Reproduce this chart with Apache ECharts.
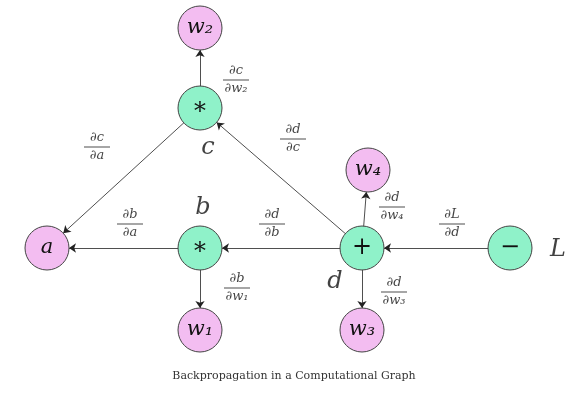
<!DOCTYPE html>
<html>
<head>
<meta charset="UTF-8">
<script src="https://cdn.jsdelivr.net/npm/echarts@6/dist/echarts.min.js"></script>
<style>body{margin:0;background:#fff}</style>
</head>
<body>
<div id="main" style="width:588px;height:402px;"></div>
<script>
// nodes: name, label, x, y, kind
var nodeNames = ['w2', 'mulC', 'a', 'mulB', 'plus', 'minus', 'w4', 'w1', 'w3'];
var nodeText = ['w₂', '∗', 'a', '∗', '+', '−', 'w₄', 'w₁', 'w₃'];
var nodeX = [200, 200, 47, 200, 362, 510, 368, 200, 362];
var nodeY = [28, 108, 248, 248, 248, 248, 170, 330, 330];
var nodeKind = ['var', 'op', 'var', 'op', 'op', 'op', 'var', 'var', 'var'];

var edgeFrom = ['mulC', 'mulC', 'plus', 'mulB', 'plus', 'mulB', 'plus', 'plus', 'minus'];
var edgeTo = ['w2', 'a', 'mulC', 'a', 'mulB', 'w1', 'w4', 'w3', 'plus'];

// gradient labels
var fracNum = ['∂c', '∂c', '∂d', '∂b', '∂d', '∂b', '∂d', '∂L', '∂d'];
var fracDen = ['∂w₂', '∂a', '∂c', '∂a', '∂b', '∂w₁', '∂w₄', '∂d', '∂w₃'];
var fracX = [236, 97, 293, 130, 272, 237, 392, 452, 394];
var fracY = [80, 147, 139, 224, 224, 288, 207, 224, 292];

// variable names next to nodes
var varText = ['c', 'b', 'd', 'L'];
var varX = [208, 203, 335, 558];
var varY = [148, 208, 282, 250];

var serif = 'DejaVu Serif';
var chart = echarts.init(document.getElementById('main'));

var nodes = nodeNames.map(function (n, i) {
  return {
    name: n, value: [nodeX[i], nodeY[i]],
    itemStyle: { color: nodeKind[i] === 'op' ? '#8ff2c9' : '#f3bdf1', borderColor: '#444', borderWidth: 1 },
    label: { formatter: nodeText[i], fontSize: nodeKind[i] === 'op' ? 24 : 21, fontStyle: nodeKind[i] === 'op' ? 'normal' : 'italic' }
  };
});
var links = edgeFrom.map(function (f, i) { return { source: f, target: edgeTo[i] }; });

chart.setOption({
  animation: false,
  grid: { left: 0, right: 0, top: 0, bottom: 0 },
  xAxis: { type: 'value', min: 0, max: 588, show: false },
  yAxis: { type: 'value', min: 0, max: 402, inverse: true, show: false },
  series: [
    {
      type: 'graph', coordinateSystem: 'cartesian2d', symbolSize: 44,
      edgeSymbol: ['none', 'arrow'], edgeSymbolSize: 7,
      lineStyle: { color: '#222', width: 0.8, opacity: 1 },
      label: { show: true, color: '#111', fontFamily: serif },
      data: nodes, links: links, z: 3
    },
    {
      type: 'scatter', symbolSize: 0, z: 4,
      data: fracX.map(function (x, i) { return [x, fracY[i], i]; }),
      label: {
        show: true, position: 'inside',
        formatter: function (p) { var i = p.value[2]; return '{n|' + fracNum[i] + '}\n{l| }\n{d|' + fracDen[i] + '}'; },
        rich: {
          n: { fontFamily: serif, fontStyle: 'italic', fontSize: 13, color: '#111', align: 'center', lineHeight: 15 },
          l: { width: 26, height: 1, lineHeight: 3, backgroundColor: '#222', fontSize: 1 },
          d: { fontFamily: serif, fontStyle: 'italic', fontSize: 13, color: '#111', align: 'center', lineHeight: 15 }
        }
      }
    },
    {
      type: 'scatter', symbolSize: 0, z: 4,
      data: varX.map(function (x, i) { return [x, varY[i], i]; }),
      label: {
        show: true, position: 'inside', fontFamily: serif, fontStyle: 'italic', fontSize: 24, color: '#111',
        formatter: function (p) { return varText[p.value[2]]; }
      }
    }
  ],
  graphic: [{
    type: 'text', left: 'center', top: 371,
    style: { text: 'Backpropagation in a Computational Graph', font: '11px "DejaVu Serif"', fill: '#333' }
  }]
});
</script>
</body>
</html>
